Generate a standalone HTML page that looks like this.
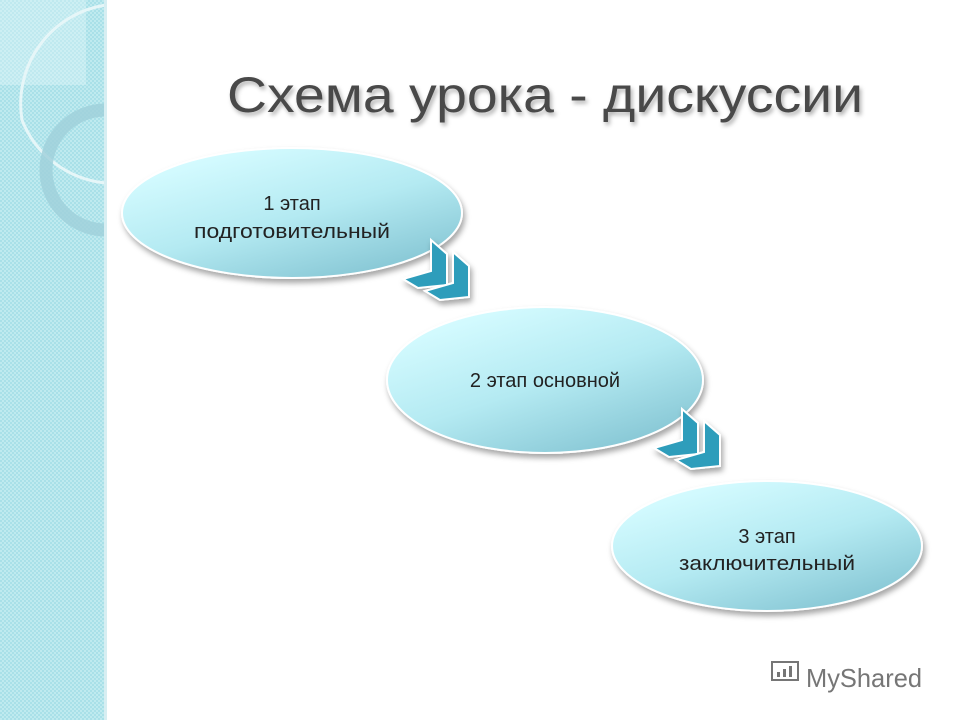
<!DOCTYPE html>
<html><head><meta charset="utf-8"><style>
html,body{margin:0;padding:0;background:#fff;}
svg{display:block}
</style></head><body>
<svg width="960" height="720" viewBox="0 0 960 720" xmlns="http://www.w3.org/2000/svg">
<defs>
<pattern id="chk" width="4" height="4" patternUnits="userSpaceOnUse">
<rect width="4" height="4" fill="#bfeaef"/><rect width="2" height="2" fill="#a9e0e8"/><rect x="2" y="2" width="2" height="2" fill="#a9e0e8"/>
</pattern>
<clipPath id="side"><rect x="0" y="0" width="104" height="720"/></clipPath>
<linearGradient id="eg" x1="0.2" y1="0.1" x2="0.8" y2="0.95">
<stop offset="0" stop-color="#d4fbff"/><stop offset="0.5" stop-color="#b4eaf2"/><stop offset="1" stop-color="#86c6d4"/>
</linearGradient>
<filter id="sh" x="-20%" y="-20%" width="140%" height="150%"><feDropShadow dx="2" dy="4" stdDeviation="3" flood-color="#000" flood-opacity="0.35"/></filter>
<filter id="ts" x="-5%" y="-20%" width="110%" height="150%"><feDropShadow dx="2" dy="3" stdDeviation="2" flood-color="#000" flood-opacity="0.3"/></filter>
</defs>
<rect x="0" y="0" width="106" height="720" fill="url(#chk)"/>
<rect x="104" y="0" width="3" height="720" fill="#d7eef2"/>
<g clip-path="url(#side)">
<rect x="0" y="0" width="86" height="85" fill="#e8f9fb" opacity="0.35"/>
<path d="M106 5 A100 100 0 0 0 22 120 A100 100 0 0 0 106 183" fill="none" stroke="#e6f6f8" stroke-width="3"/>
<circle cx="106" cy="170" r="60" fill="none" stroke="#9fd0da" stroke-width="13" opacity="0.8"/>
</g>

<text x="545" y="112" font-family="Liberation Sans, sans-serif" font-size="50" fill="#4a4a4a" text-anchor="middle" textLength="636" lengthAdjust="spacingAndGlyphs" filter="url(#ts)">Схема  урока - дискуссии</text>

<g filter="url(#sh)">
<ellipse cx="292" cy="213" rx="170" ry="65" fill="url(#eg)" stroke="#fff" stroke-width="2"/>
<ellipse cx="545" cy="380" rx="158" ry="73" fill="url(#eg)" stroke="#fff" stroke-width="2"/>
<ellipse cx="767" cy="546" rx="155" ry="65" fill="url(#eg)" stroke="#fff" stroke-width="2"/>
</g>

<g filter="url(#sh)" fill="#2f9dbb" stroke="#fff" stroke-width="2" stroke-linejoin="miter">
<polygon points="431,240 447,254 447,285 418,288 403,279 431,271"/>
<polygon points="453,252 469,266 469,297 440,300 425,291 453,283"/>
<polygon points="682,409 698,423 698,454 669,457 654,448 682,440"/>
<polygon points="704,421 720,435 720,466 691,469 676,460 704,452"/>
</g>

<g font-family="Liberation Sans, sans-serif" font-size="20" fill="#222" text-anchor="middle">
<text x="292" y="210">1 этап</text>
<text x="292" y="238" textLength="196" lengthAdjust="spacingAndGlyphs">подготовительный</text>
<text x="545" y="387">2  этап основной</text>
<text x="767" y="543">3 этап</text>
<text x="767" y="570" textLength="176" lengthAdjust="spacingAndGlyphs">заключительный</text>
</g>

<g opacity="0.8">
<rect x="772" y="662" width="26" height="18" fill="none" stroke="#555" stroke-width="2"/>
<rect x="777" y="672" width="3" height="5" fill="#555"/><rect x="783" y="669" width="3" height="8" fill="#555"/><rect x="789" y="666" width="3" height="11" fill="#555"/>
<text x="806" y="687" font-family="Liberation Sans, sans-serif" font-size="26" fill="#555" textLength="116" lengthAdjust="spacingAndGlyphs">MyShared</text>
</g>
</svg>
</body></html>
